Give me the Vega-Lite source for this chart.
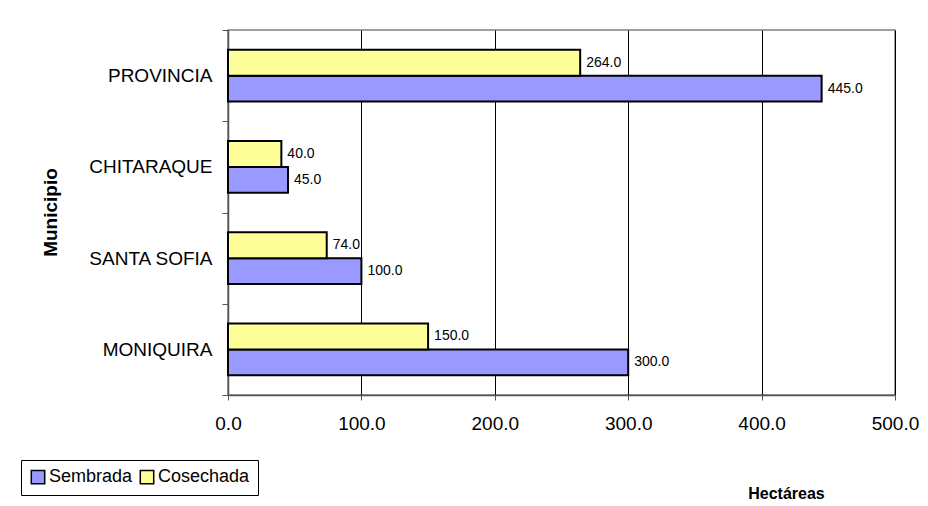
{
  "$schema": "https://vega.github.io/schema/vega-lite/v6.json",
  "width": 667,
  "height": 365,
  "autosize": {"type": "none"},
  "padding": {"left": 228, "top": 30, "right": 33, "bottom": 111},
  "background": "white",
  "config": {
    "font": "Liberation Sans",
    "view": {"stroke": "#808080", "strokeWidth": 1.5}
  },
  "data": {
    "values": [
      {"Municipio": "PROVINCIA", "Tipo": "Sembrada", "Hectareas": 445},
      {"Municipio": "PROVINCIA", "Tipo": "Cosechada", "Hectareas": 264},
      {"Municipio": "CHITARAQUE", "Tipo": "Sembrada", "Hectareas": 45},
      {"Municipio": "CHITARAQUE", "Tipo": "Cosechada", "Hectareas": 40},
      {"Municipio": "SANTA SOFIA", "Tipo": "Sembrada", "Hectareas": 100},
      {"Municipio": "SANTA SOFIA", "Tipo": "Cosechada", "Hectareas": 74},
      {"Municipio": "MONIQUIRA", "Tipo": "Sembrada", "Hectareas": 300},
      {"Municipio": "MONIQUIRA", "Tipo": "Cosechada", "Hectareas": 150}
    ]
  },
  "encoding": {
    "y": {
      "field": "Municipio",
      "type": "nominal",
      "sort": ["PROVINCIA", "CHITARAQUE", "SANTA SOFIA", "MONIQUIRA"],
      "scale": {"paddingInner": 0, "paddingOuter": 0},
      "axis": {
        "title": "Municipio",
        "tickBand": "extent",
        "tickSize": 6,
        "tickColor": "#555555",
        "domainColor": "#555555",
        "domainWidth": 1.5,
        "labelFontSize": 19,
        "labelColor": "black",
        "labelPadding": 10,
        "titleFontSize": 19,
        "titleFontWeight": "bold",
        "titleColor": "black",
        "titleX": -178,
        "titleY": 182,
        "titleAngle": -90,
        "titleAlign": "center",
        "titleBaseline": "middle"
      }
    },
    "yOffset": {
      "field": "Tipo",
      "sort": ["Cosechada", "Sembrada"],
      "scale": {"paddingInner": 0, "paddingOuter": 0.755}
    },
    "x": {
      "field": "Hectareas",
      "type": "quantitative",
      "scale": {"domain": [0, 500], "nice": false},
      "axis": {
        "title": "Hectáreas",
        "values": [0, 100, 200, 300, 400, 500],
        "format": ".1f",
        "grid": true,
        "gridColor": "black",
        "gridWidth": 1,
        "tickSize": 5,
        "tickColor": "#555555",
        "domainColor": "#555555",
        "domainWidth": 1.5,
        "labelFontSize": 19,
        "labelColor": "black",
        "labelPadding": 14,
        "labelFlush": false,
        "titleFontSize": 16,
        "titleFontWeight": "bold",
        "titleColor": "black",
        "titleX": 558,
        "titleY": 98,
        "titleAlign": "center",
        "titleBaseline": "middle"
      }
    }
  },
  "layer": [
    {
      "mark": {"type": "bar", "stroke": "black", "strokeWidth": 2},
      "encoding": {
        "color": {
          "field": "Tipo",
          "type": "nominal",
          "scale": {"domain": ["Sembrada", "Cosechada"], "range": ["#9999FF", "#FFFF99"]},
          "legend": {
            "title": null,
            "orient": "none",
            "legendX": -207,
            "legendY": 430,
            "direction": "horizontal",
            "strokeColor": "black",
            "fillColor": "white",
            "padding": 8,
            "symbolType": "square",
            "symbolSize": 180,
            "symbolStrokeColor": "black",
            "symbolStrokeWidth": 1.5,
            "symbolOpacity": 1,
            "labelFontSize": 18,
            "labelColor": "black",
            "labelOffset": 2,
            "columnPadding": 4
          }
        }
      }
    },
    {
      "mark": {"type": "text", "align": "left", "baseline": "middle", "dx": 6, "fontSize": 14, "color": "black"},
      "encoding": {
        "text": {"field": "Hectareas", "type": "quantitative", "format": ".1f"}
      }
    }
  ]
}
